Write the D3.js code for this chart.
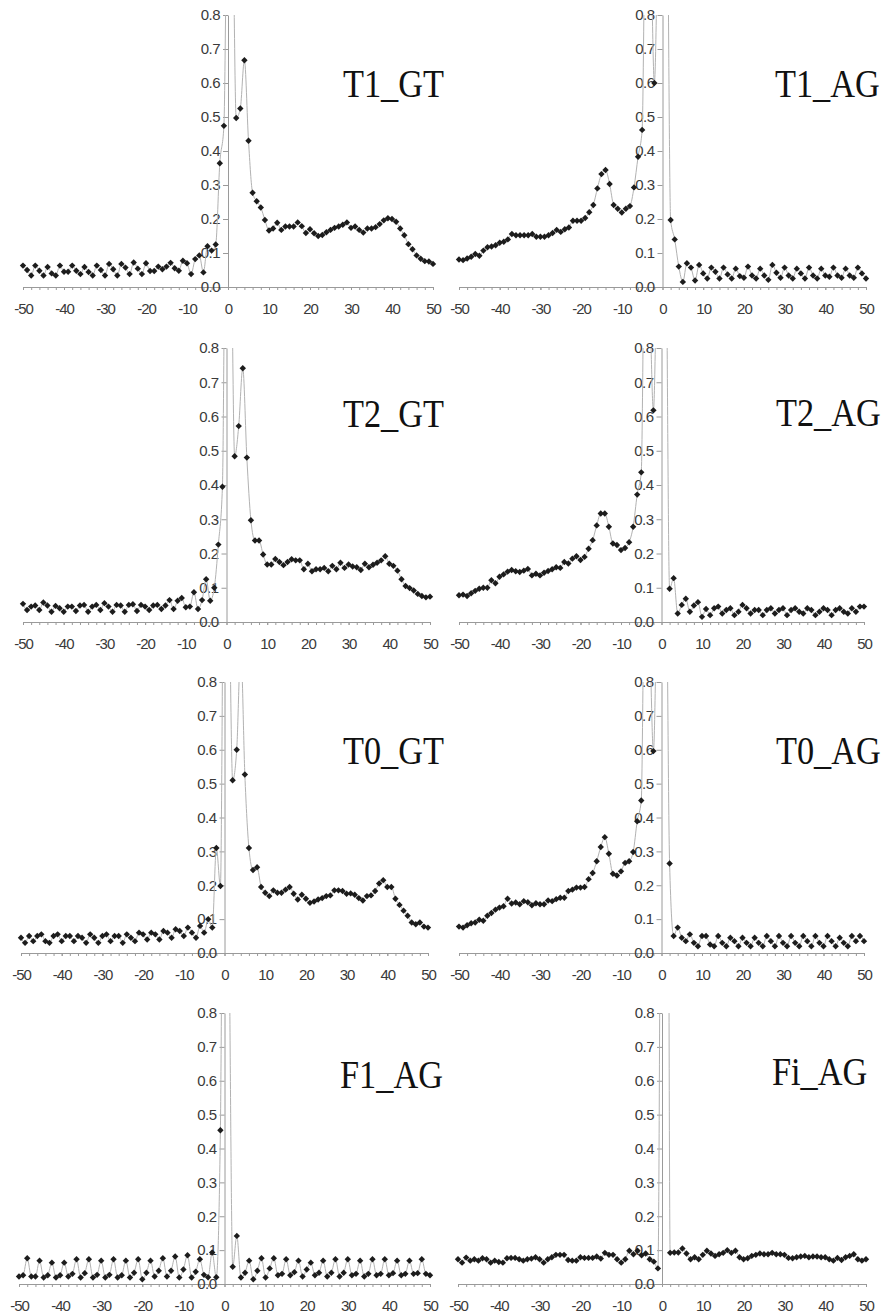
<!DOCTYPE html>
<html>
<head>
<meta charset="utf-8">
<script src="https://cdn.jsdelivr.net/npm/d3@7"></script>
<style>
  body { margin: 0; background: #fff; }
  .tick text { font-family: "Liberation Sans", Arial, sans-serif; font-size: 15px; fill: #3a3a3a; }
  .domain, .tick line { stroke: #9a9a9a; }
  .title { font-family: "Liberation Serif", "Times New Roman", serif; font-size: 39px; fill: #111; }
</style>
</head>
<body>
<script>
// positions relative to the splice site
const positions = [-50,-49,-48,-47,-46,-45,-44,-43,-42,-41,-40,-39,-38,-37,-36,-35,-34,-33,-32,-31,
  -30,-29,-28,-27,-26,-25,-24,-23,-22,-21,-20,-19,-18,-17,-16,-15,-14,-13,-12,-11,
  -10,-9,-8,-7,-6,-5,-4,-3,-2,-1,0,1,2,3,4,5,6,7,8,9,10,11,12,13,14,15,16,17,18,19,
  20,21,22,23,24,25,26,27,28,29,30,31,32,33,34,35,36,37,38,39,40,41,42,43,44,45,46,47,48,49,50];

const yTicks = [0, 0.1, 0.2, 0.3, 0.4, 0.5, 0.6, 0.7, 0.8];
const xTickLabels = [-50, -40, -30, -20, -10, 0, 10, 20, 30, 40, 50];
const panelTitles = ["T1_GT", "T1_AG", "T2_GT", "T2_AG", "T0_GT", "T0_AG", "F1_AG", "Fi_AG"];

// values > 0.8 run off the top of the plot
const t1GT = [
  0.063,0.05,0.034,0.063,0.048,0.034,0.059,0.04,0.034,0.063,
  0.045,0.045,0.063,0.048,0.038,0.059,0.044,0.034,0.063,0.05,
  0.034,0.068,0.052,0.034,0.068,0.057,0.038,0.072,0.054,0.038,
  0.07,0.047,0.047,0.06,0.052,0.06,0.071,0.055,0.048,0.077,
  0.07,0.038,0.082,0.093,0.043,0.12,0.107,0.125,0.364,0.474,
  1.3,1.2,0.497,0.525,0.667,0.43,0.277,0.252,0.234,0.197,
  0.166,0.172,0.189,0.168,0.178,0.178,0.178,0.19,0.179,0.159,
  0.17,0.158,0.15,0.153,0.161,0.168,0.174,0.178,0.183,0.19,
  0.174,0.178,0.168,0.16,0.172,0.172,0.176,0.185,0.196,0.202,
  0.2,0.192,0.172,0.152,0.126,0.111,0.093,0.083,0.076,0.075,
  0.068];

const t1AG = [
  0.081,0.079,0.084,0.089,0.097,0.092,0.107,0.117,0.119,0.123,
  0.13,0.133,0.14,0.156,0.152,0.152,0.152,0.152,0.156,0.148,
  0.148,0.148,0.152,0.159,0.168,0.162,0.17,0.175,0.195,0.195,
  0.195,0.203,0.22,0.241,0.29,0.332,0.344,0.303,0.241,0.23,
  0.219,0.23,0.238,0.293,0.383,0.462,1.3,1.1,0.6,1.2,
  2.0,1.5,0.197,0.14,0.06,0.015,0.07,0.057,0.019,0.065,
  0.04,0.025,0.057,0.045,0.025,0.057,0.037,0.025,0.054,0.032,
  0.027,0.06,0.034,0.025,0.054,0.034,0.021,0.065,0.042,0.027,
  0.057,0.034,0.025,0.054,0.04,0.025,0.057,0.034,0.025,0.054,
  0.034,0.03,0.057,0.034,0.027,0.054,0.034,0.027,0.057,0.04,
  0.025];

const t2GT = [
  0.053,0.035,0.045,0.048,0.035,0.057,0.048,0.03,0.047,0.04,
  0.03,0.045,0.045,0.032,0.048,0.05,0.03,0.045,0.05,0.035,
  0.055,0.045,0.03,0.05,0.048,0.03,0.05,0.052,0.032,0.05,
  0.045,0.035,0.048,0.05,0.038,0.048,0.064,0.038,0.062,0.07,
  0.043,0.045,0.087,0.038,0.064,0.125,0.062,0.1,0.226,0.395,
  1.6,1.3,0.484,0.572,0.741,0.48,0.297,0.238,0.238,0.197,
  0.168,0.168,0.184,0.175,0.166,0.175,0.183,0.18,0.18,0.154,
  0.17,0.148,0.154,0.154,0.158,0.148,0.164,0.154,0.173,0.158,
  0.168,0.162,0.16,0.152,0.17,0.16,0.167,0.173,0.18,0.192,
  0.17,0.164,0.15,0.125,0.105,0.099,0.092,0.082,0.076,0.072,
  0.074];

const t2AG = [
  0.078,0.08,0.076,0.084,0.091,0.097,0.1,0.1,0.122,0.113,
  0.132,0.139,0.147,0.152,0.148,0.146,0.15,0.155,0.136,0.141,
  0.136,0.144,0.149,0.154,0.16,0.158,0.175,0.171,0.185,0.192,
  0.181,0.19,0.214,0.239,0.282,0.317,0.317,0.278,0.229,0.225,
  0.21,0.216,0.233,0.278,0.372,0.437,1.3,1.0,0.618,1.2,
  2.0,1.4,0.097,0.128,0.025,0.05,0.068,0.03,0.048,0.058,
  0.015,0.038,0.02,0.04,0.045,0.025,0.035,0.04,0.02,0.03,
  0.05,0.04,0.025,0.035,0.035,0.02,0.035,0.04,0.025,0.035,
  0.04,0.02,0.035,0.04,0.03,0.025,0.04,0.035,0.02,0.03,
  0.04,0.035,0.02,0.035,0.04,0.03,0.025,0.04,0.03,0.045,
  0.045];

const t0GT = [
  0.045,0.03,0.05,0.035,0.05,0.055,0.035,0.03,0.05,0.055,
  0.035,0.05,0.05,0.035,0.05,0.045,0.03,0.055,0.045,0.03,
  0.05,0.055,0.035,0.05,0.05,0.03,0.055,0.045,0.035,0.06,
  0.055,0.04,0.06,0.055,0.04,0.065,0.06,0.045,0.07,0.065,
  0.05,0.075,0.06,0.045,0.08,0.06,0.1,0.075,0.31,0.198,
  1.5,1.2,0.51,0.6,0.9,0.527,0.31,0.245,0.253,0.195,
  0.178,0.168,0.185,0.178,0.178,0.187,0.195,0.175,0.158,0.172,
  0.16,0.148,0.152,0.158,0.162,0.168,0.17,0.185,0.185,0.183,
  0.175,0.176,0.172,0.162,0.155,0.168,0.17,0.183,0.205,0.215,
  0.195,0.195,0.16,0.142,0.125,0.11,0.09,0.085,0.09,0.078,
  0.075];

const t0AG = [
  0.078,0.075,0.082,0.088,0.09,0.098,0.095,0.11,0.118,0.128,
  0.134,0.138,0.16,0.146,0.149,0.144,0.153,0.15,0.141,0.147,
  0.144,0.144,0.155,0.153,0.159,0.163,0.163,0.183,0.187,0.193,
  0.193,0.195,0.218,0.236,0.271,0.313,0.342,0.293,0.234,0.229,
  0.241,0.266,0.271,0.298,0.389,0.45,1.3,1.0,0.596,1.2,
  2.0,1.5,0.264,0.05,0.075,0.045,0.035,0.055,0.03,0.02,
  0.05,0.05,0.025,0.02,0.05,0.03,0.02,0.045,0.035,0.02,
  0.045,0.03,0.02,0.045,0.03,0.02,0.05,0.035,0.02,0.05,
  0.03,0.02,0.05,0.03,0.02,0.05,0.035,0.02,0.05,0.03,
  0.02,0.05,0.035,0.02,0.045,0.03,0.02,0.05,0.035,0.05,
  0.035];

const f1AG = [
  0.022,0.026,0.076,0.022,0.022,0.069,0.019,0.026,0.063,0.019,
  0.026,0.063,0.022,0.03,0.073,0.019,0.032,0.073,0.019,0.027,
  0.069,0.019,0.027,0.073,0.019,0.026,0.069,0.019,0.033,0.073,
  0.014,0.033,0.069,0.022,0.039,0.076,0.022,0.039,0.081,0.019,
  0.043,0.085,0.019,0.036,0.073,0.027,0.02,0.093,0.02,0.454,
  2.0,1.2,0.051,0.142,0.019,0.033,0.069,0.014,0.039,0.076,
  0.019,0.046,0.076,0.026,0.03,0.073,0.026,0.035,0.069,0.022,
  0.043,0.063,0.026,0.033,0.069,0.022,0.033,0.073,0.022,0.033,
  0.073,0.026,0.03,0.069,0.022,0.03,0.073,0.026,0.03,0.073,
  0.026,0.032,0.069,0.026,0.03,0.069,0.03,0.032,0.073,0.03,
  0.026];

const fiAG = [
  0.073,0.063,0.078,0.069,0.073,0.069,0.076,0.073,0.063,0.069,
  0.065,0.063,0.076,0.077,0.077,0.073,0.069,0.073,0.075,0.079,
  0.073,0.063,0.073,0.079,0.086,0.086,0.086,0.071,0.069,0.069,
  0.079,0.077,0.077,0.077,0.081,0.075,0.092,0.086,0.086,0.073,
  0.063,0.073,0.098,0.088,0.098,0.085,0.09,0.073,0.066,0.046,
  2.5,4.0,0.092,0.093,0.093,0.105,0.09,0.073,0.079,0.073,
  0.086,0.098,0.09,0.083,0.088,0.092,0.1,0.092,0.098,0.079,
  0.073,0.076,0.083,0.086,0.09,0.088,0.088,0.092,0.088,0.088,
  0.086,0.077,0.076,0.079,0.081,0.083,0.079,0.081,0.081,0.079,
  0.079,0.073,0.069,0.077,0.071,0.079,0.083,0.088,0.073,0.069,
  0.073];

const panelSeries = [t1GT, t1AG, t2GT, t2AG, t0GT, t0AG, f1AG, fiAG];

// pixel frame of each small chart
const LAYOUT = [
  {x0: 23, x1: 433, top: 15, bottom: 287, tx: 343, ty: 97},
  {x0: 459, x1: 866, top: 15, bottom: 287, tx: 775, ty: 97},
  {x0: 23, x1: 430, top: 348, bottom: 622, tx: 343, ty: 427},
  {x0: 459, x1: 864, top: 348, bottom: 622, tx: 776, ty: 426},
  {x0: 21, x1: 428, top: 682, bottom: 953, tx: 343, ty: 764},
  {x0: 459, x1: 864, top: 682, bottom: 953, tx: 776, ty: 764},
  {x0: 19, x1: 430, top: 1013, bottom: 1284, tx: 340, ty: 1088},
  {x0: 458, x1: 866, top: 1013, bottom: 1284, tx: 772, ty: 1085}
];

const svg = d3.select("body").append("svg")
  .attr("width", 884)
  .attr("height", 1316);

const diamond = (r) => `M0,${-r}L${r},0L0,${r}L${-r},0Z`;

panelSeries.forEach((series, i) => {
  const L = LAYOUT[i];
  const x = d3.scaleLinear().domain([-50, 50]).range([L.x0, L.x1]);
  const y = d3.scaleLinear().domain([0, 0.8]).range([L.bottom, L.top]);
  const g = svg.append("g");

  svg.append("clipPath").attr("id", "clip" + i)
    .append("rect")
    .attr("x", L.x0 - 8).attr("y", L.top)
    .attr("width", L.x1 - L.x0 + 16).attr("height", L.bottom - L.top + 8);

  // x axis: minor ticks every 2, labels every 10
  g.append("g")
    .attr("transform", `translate(0,${L.bottom})`)
    .call(d3.axisBottom(x).tickValues(d3.range(-50, 51, 2)).tickSize(3).tickSizeOuter(0).tickFormat(""));
  g.append("g")
    .attr("transform", `translate(0,${L.bottom})`)
    .call(d3.axisBottom(x).tickValues(xTickLabels).tickSize(3).tickSizeOuter(0).tickPadding(13)
      .tickFormat(d => String(d)))
    .call(a => a.select(".domain").remove())
    .selectAll("text").attr("letter-spacing", "-1px");

  // y axis sits on position 0
  g.append("g")
    .attr("transform", `translate(${x(0)},0)`)
    .call(d3.axisLeft(y).tickValues(yTicks).tickFormat(d3.format(".1f")).tickSize(5).tickSizeOuter(0).tickPadding(3))
    .selectAll("text").attr("letter-spacing", "-0.5px");

  const plot = g.append("g").attr("clip-path", `url(#clip${i})`);

  const line = d3.line()
    .x((d, j) => x(positions[j]))
    .y(d => y(d))
    .curve(d3.curveMonotoneX);

  plot.append("path")
    .datum(series)
    .attr("fill", "none")
    .attr("stroke", "#b2b2b2")
    .attr("stroke-width", 1)
    .attr("d", line);

  plot.selectAll(".pt")
    .data(series)
    .enter()
    .append("path")
    .attr("class", "pt")
    .attr("d", diamond(3.2))
    .attr("transform", (d, j) => `translate(${x(positions[j])},${y(d)})`)
    .attr("fill", "#1c1c1c");

  svg.append("text")
    .attr("class", "title")
    .attr("transform", `translate(${L.tx},${L.ty}) scale(0.88,1)`)
    .text(panelTitles[i]);
});
</script>
</body>
</html>
